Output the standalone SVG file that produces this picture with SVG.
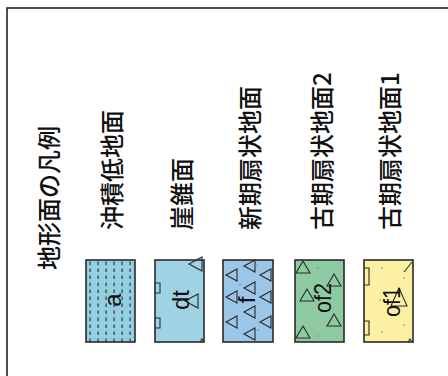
<svg xmlns="http://www.w3.org/2000/svg" width="448" height="376" viewBox="0 0 448 376">
<style>
.t{font-family:"Noto Sans CJK JP","Noto Sans",sans-serif;font-size:24px;fill:#111;dominant-baseline:central;font-weight:500}
.l{font-family:"Liberation Sans","DejaVu Sans",sans-serif;font-size:24px;fill:#111;dominant-baseline:central;text-anchor:middle}
.b{stroke:#2a2a2a;stroke-width:1.6}
.tri{fill:none;stroke:#2a2a2a;stroke-width:1.1}
.dot{fill:#6a8a8a}
</style>
<defs>
<pattern id="dash" x="86" y="260" width="8" height="7" patternUnits="userSpaceOnUse">
<rect x="3.5" y="1.5" width="1.2" height="3.5" fill="#2a3a3a"/>
</pattern>
</defs>
<rect x="0" y="0" width="448" height="376" fill="#ffffff"/>
<rect x="7" y="8" width="470" height="400" fill="none" stroke="#222" stroke-width="1.6"/>
<g id="title"><text class="t" transform="translate(47,270) rotate(-90)">地形面の凡例</text></g>
<g id="n1">
<text class="t" transform="translate(110,230) rotate(-90)">沖積低地面</text>
<rect x="86" y="260" width="49" height="82" fill="#93cfe1"/>
<rect x="86" y="260" width="49" height="82" fill="url(#dash)"/>
<rect x="86" y="260" width="49" height="82" fill="none" class="b"/>
<text class="l" transform="translate(112,300) rotate(-90)">a</text>
</g>
<g id="n2">
<text class="t" transform="translate(180,230) rotate(-90)">崖錐面</text>
<rect x="155" y="260" width="49" height="82" fill="#9fd3e3" class="b"/>
<polyline class="tri" points="155,283 160,283 160,293 155,293"/>
<polyline class="tri" points="155,318 160,318 160,328 155,328"/>
<polygon class="tri" points="189,264 202,257 202,271"/>
<polygon class="tri" points="185,301 198,294 198,308"/>
<polyline class="tri" points="200,342 202,339 204,342"/>
<text class="l" transform="translate(180,300) rotate(-90)">dt</text>
</g>
<g id="n3">
<text class="t" transform="translate(248,230) rotate(-90)">新期扇状地面</text>
<rect x="223" y="260" width="50" height="82" fill="#9cc6e8" class="b"/>
<polygon class="tri" points="226,275 237,269 237,281"/>
<polygon class="tri" points="226,297 237,291 237,303"/>
<polygon class="tri" points="226,322 237,316 237,328"/>
<polygon class="tri" points="244,266 255,260 255,272"/>
<polygon class="tri" points="244,288 255,282 255,294"/>
<polygon class="tri" points="244,312 255,306 255,318"/>
<polygon class="tri" points="244,334 255,328 255,340"/>
<polygon class="tri" points="260,275 271,269 271,281"/>
<polygon class="tri" points="260,297 271,291 271,303"/>
<polygon class="tri" points="260,322 271,316 271,328"/>
<circle class="dot" cx="256" cy="265" r="0.8"/>
<circle class="dot" cx="240" cy="285" r="0.8"/>
<circle class="dot" cx="258" cy="330" r="0.8"/>
<text class="l" transform="translate(246,300) rotate(-90)">f</text>
</g>
<g id="n4">
<text class="t" transform="translate(320,230) rotate(-90)">古期扇状地面2</text>
<rect x="295" y="260" width="49" height="82" fill="#8dc9a1" class="b"/>
<polygon class="tri" points="303,261 296,273 310,273"/>
<polygon class="tri" points="334,274 327,286 341,286"/>
<polygon class="tri" points="307,289 300,301 314,301"/>
<polygon class="tri" points="334,314 327,326 341,326"/>
<polygon class="tri" points="303,326 296,338 310,338"/>
<circle class="dot" cx="318" cy="268" r="0.8"/>
<circle class="dot" cx="330" cy="300" r="0.8"/>
<circle class="dot" cx="318" cy="336" r="0.8"/>
<text class="l" transform="translate(322,298) rotate(-90)" textLength="30" lengthAdjust="spacingAndGlyphs">of2</text>
</g>
<g id="n5">
<text class="t" transform="translate(388,230) rotate(-90)">古期扇状地面1</text>
<rect x="364" y="260" width="49" height="82" fill="#fcf1a2" class="b"/>
<polyline class="tri" points="364,268 369,268 369,285 364,285"/>
<polyline class="tri" points="364,321 369,321 369,335 364,335"/>
<polyline class="tri" points="404,272 412,262"/>
<polygon class="tri" points="399,288 391,306 407,306"/>
<polyline class="tri" points="408,342 410,339 412,342"/>
<circle class="dot" cx="382" cy="268" r="0.8"/>
<circle class="dot" cx="404" cy="278" r="0.8"/>
<circle class="dot" cx="380" cy="300" r="0.8"/>
<circle class="dot" cx="404" cy="325" r="0.8"/>
<circle class="dot" cx="382" cy="332" r="0.8"/>
<text class="l" transform="translate(391,302) rotate(-90)" textLength="30" lengthAdjust="spacingAndGlyphs">of1</text>
</g>
</svg>
